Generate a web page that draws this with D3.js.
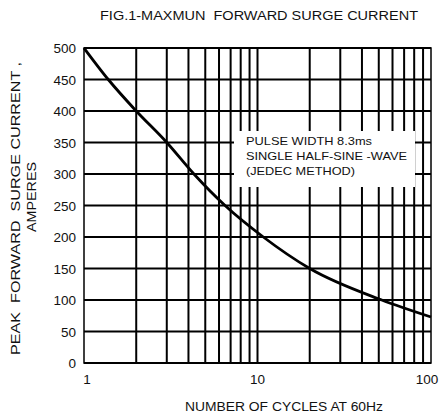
<!DOCTYPE html>
<html>
<head>
<meta charset="utf-8">
<script src="https://cdn.jsdelivr.net/npm/d3@7"></script>
<style>
  body{margin:0;background:#fff;}
  svg{display:block;font-family:"Liberation Sans",Arial,sans-serif;}
  text{white-space:pre;fill:#111;}
</style>
</head>
<body>
<svg id="chart" width="443" height="414"></svg>
<script>
// cycles vs peak surge current
var cycles=[1,1.38,2,3,4.3,6.5,10.8,20,52,100];
var amps=[500,450,400,350,300,250,200,150,100,73];
var yTicks=[0,50,100,150,200,250,300,350,400,450,500];
var xLabels=[1,10,100];
var xGrid=[2,3,4,5,6,7,8,9,10,20,30,40,50,60,70,80,90];
var noteLines=['PULSE WIDTH 8.3ms','SINGLE HALF-SINE -WAVE','(JEDEC METHOD)'];
var noteWidths=[126,161,109];

var svg=d3.select('#chart');
var x=d3.scaleLog().domain([1,100]).range([84,431]);
var y=d3.scaleLinear().domain([0,500]).range([363,48]);

// title
svg.append('text')
  .attr('x',100).attr('y',20)
  .attr('textLength',318).attr('lengthAdjust','spacingAndGlyphs')
  .style('font-size','12px')
  .text('FIG.1-MAXMUN  FORWARD SURGE CURRENT');

// grid
svg.append('g').selectAll('line')
  .data(yTicks).enter().append('line')
  .attr('x1',x(1)).attr('x2',x(100))
  .attr('y1',function(d){return y(d)}).attr('y2',function(d){return y(d)})
  .attr('stroke','#000').attr('stroke-width',2);
svg.append('g').selectAll('line')
  .data(xGrid).enter().append('line')
  .attr('x1',function(d){return x(d)}).attr('x2',function(d){return x(d)})
  .attr('y1',y(0)).attr('y2',y(500))
  .attr('stroke','#000').attr('stroke-width',2);

// frame
svg.append('rect')
  .attr('x',x(1)).attr('y',y(500))
  .attr('width',x(100)-x(1)).attr('height',y(0)-y(500))
  .attr('fill','none').attr('stroke','#000').attr('stroke-width',1.5);

// note box
svg.append('rect')
  .attr('x',234).attr('y',131).attr('width',181).attr('height',56)
  .attr('fill','#fff');
svg.append('g').selectAll('text')
  .data(noteLines).enter().append('text')
  .attr('x',246).attr('y',function(d,i){return 145+i*15})
  .attr('textLength',function(d,i){return noteWidths[i]})
  .attr('lengthAdjust','spacingAndGlyphs')
  .style('font-size','11.5px')
  .text(function(d){return d});

// curve
var line=d3.line()
  .x(function(d,i){return x(cycles[i])})
  .y(function(d){return y(d)})
  .curve(d3.curveMonotoneX);
svg.append('path')
  .datum(amps)
  .attr('d',line)
  .attr('fill','none').attr('stroke','#000').attr('stroke-width',2.8);

// y tick labels
svg.append('g').selectAll('text')
  .data(yTicks).enter().append('text')
  .attr('x',76).attr('y',function(d){return y(d)+5})
  .attr('text-anchor','end')
  .style('font-size','13.5px')
  .text(function(d){return d});

// x tick labels
svg.append('g').selectAll('text')
  .data(xLabels).enter().append('text')
  .attr('x',function(d,i){return x(d)+[3,0,-4][i]}).attr('y',384)
  .attr('text-anchor','middle')
  .style('font-size','13.5px')
  .text(function(d){return d});

// axis titles
svg.append('text')
  .attr('x',185).attr('y',411)
  .attr('textLength',198).attr('lengthAdjust','spacingAndGlyphs')
  .style('font-size','12.5px')
  .text('NUMBER OF CYCLES AT 60Hz');
svg.append('text')
  .attr('transform','translate(20,355) rotate(-90)')
  .attr('textLength',293).attr('lengthAdjust','spacingAndGlyphs')
  .style('font-size','12.5px')
  .text('PEAK  FORWARD  SURGE CURRENT ,');
svg.append('text')
  .attr('transform','translate(36,232) rotate(-90)')
  .attr('textLength',70).attr('lengthAdjust','spacingAndGlyphs')
  .style('font-size','12.5px')
  .text('AMPERES');
</script>
</body>
</html>
